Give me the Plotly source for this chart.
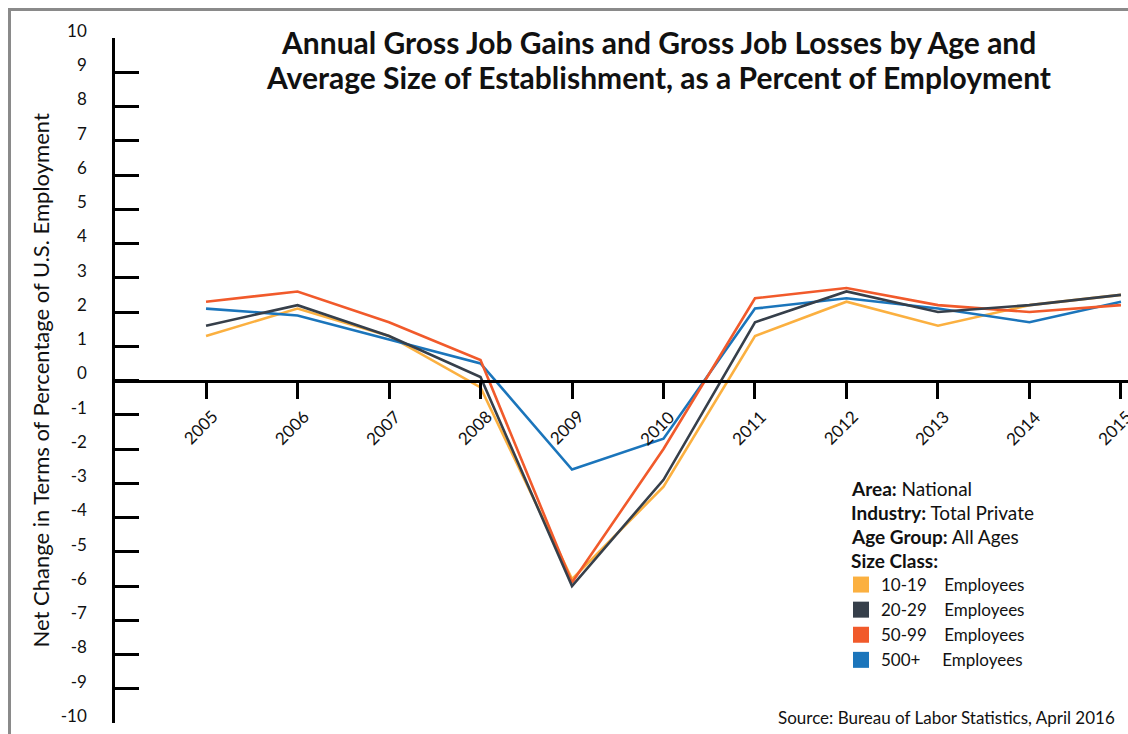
import plotly.graph_objects as go

years = [2005, 2006, 2007, 2008, 2009, 2010, 2011, 2012, 2013, 2014, 2015]
size_10_19 = [1.3, 2.1, 1.3, -0.2, -5.8, -3.1, 1.3, 2.3, 1.6, 2.2, 2.5]
size_20_29 = [1.6, 2.2, 1.3, 0.1, -6.0, -2.9, 1.7, 2.6, 2.0, 2.2, 2.5]
size_50_99 = [2.3, 2.6, 1.7, 0.6, -5.9, -2.0, 2.4, 2.7, 2.2, 2.0, 2.2]
size_500p = [2.1, 1.9, 1.2, 0.5, -2.6, -1.7, 2.1, 2.4, 2.1, 1.7, 2.3]

series_names = ["10-19", "20-29", "50-99", "500+"]
name_pad = [4, 4, 4, 5]
colors = ["#FBB040", "#363F4A", "#F15A2B", "#1B75BB"]
series_values = [size_10_19, size_20_29, size_50_99, size_500p]
draw_order = [0, 3, 2, 1]

info_labels = ["Area:", "Industry:", "Age Group:", "Size Class:"]
info_values = ["National", "Total Private", "All Ages", ""]

title_lines = ["Annual Gross Job Gains and Gross Job Losses by Age and",
               "Average Size of Establishment, as a Percent of Employment"]

y_ticks = list(range(-10, 11))

FONT = "Lato"
TXT = "#111111"

fig = go.Figure()

for i in draw_order:
    fig.add_trace(go.Scatter(
        x=years, y=series_values[i], mode="lines",
        line=dict(color=colors[i], width=2.6),
        name=series_names[i], showlegend=False,
    ))

for i in range(4):
    fig.add_trace(go.Scatter(
        x=[None], y=[None], mode="markers",
        marker=dict(symbol="square", size=17, color=colors[i]),
        name=series_names[i] + "\u00a0" * name_pad[i] + "Employees",
        showlegend=True, legendrank=i + 1,
    ))

annotations = []
for yr in years:
    annotations.append(dict(
        x=yr, y=0, xref="x", yref="y", text=str(yr), showarrow=False,
        textangle=-45, xshift=-6, yshift=-47,
        font=dict(family=FONT, size=17, color=TXT),
    ))

for k, line in enumerate(title_lines):
    ypix = 42 + 35 * k
    annotations.append(dict(
        x=0.537, y=(723 - ypix) / 685, xref="paper", yref="paper",
        xanchor="center", yanchor="middle",
        text="<b>" + line + "</b>", showarrow=False,
        font=dict(family=FONT, size=30, color=TXT),
    ))
annotations.append(dict(
    x=-0.074, y=0.5, xref="paper", yref="paper", xanchor="center", yanchor="middle",
    text="Net Change in Terms of Percentage of U.S. Employment",
    textangle=-90, showarrow=False,
    font=dict(family=FONT, size=22, color=TXT),
))
annotations.append(dict(
    x=0.989, y=0.0073, xref="paper", yref="paper", xanchor="right", yanchor="middle",
    text="Source: Bureau of Labor Statistics, April 2016",
    showarrow=False,
    font=dict(family=FONT, size=17, color=TXT),
))
for k, (lab, val) in enumerate(zip(info_labels, info_values)):
    ypix = 488 + 24.3 * k
    annotations.append(dict(
        x=(849 - 115) / 1013, y=(723 - ypix) / 685, xref="paper", yref="paper",
        xanchor="left", yanchor="middle", showarrow=False,
        text="<b>" + lab + "</b>" + (" " + val if val else ""),
        font=dict(family=FONT, size=19, color=TXT),
    ))

fig.update_layout(
    width=1128, height=734,
    margin=dict(l=115, r=0, t=38, b=11),
    paper_bgcolor="white", plot_bgcolor="white",
    font=dict(family=FONT, color=TXT),
    xaxis=dict(
        range=[2004.005, 2015.077], anchor="free", position=0.5,
        showline=True, linecolor="black", linewidth=2.5,
        ticks="outside", ticklen=17, tickwidth=2.5, tickcolor="black",
        tickvals=years, showticklabels=False, showgrid=False, zeroline=False,
    ),
    yaxis=dict(
        range=[-10, 10], tickvals=y_ticks, ticktext=[str(v) for v in y_ticks],
        showline=True, linecolor="black", linewidth=2.5,
        ticks="inside", ticklen=24, tickwidth=2.5, tickcolor="black",
        showgrid=False, zeroline=False,
        ticklabelstandoff=22, ticklabelshift=-7,
        tickfont=dict(family=FONT, size=17, color=TXT),
    ),
    legend=dict(
        x=(841 - 115) / 1013, y=(723 - 567) / 685, xanchor="left", yanchor="top",
        bgcolor="rgba(0,0,0,0)",
        font=dict(family=FONT, size=17, color=TXT),
        traceorder="normal", itemsizing="trace",
    ),
    annotations=annotations,
    shapes=[
        dict(type="line", xref="paper", yref="paper",
             x0=(9 - 115) / 1013, x1=(1128 - 115) / 1013,
             y0=(723 - 9.5) / 685, y1=(723 - 9.5) / 685,
             line=dict(color="#8a8a8a", width=3)),
        dict(type="line", xref="paper", yref="paper",
             x0=(9.5 - 115) / 1013, x1=(9.5 - 115) / 1013,
             y0=(723 - 8) / 685, y1=(723 - 734) / 685,
             line=dict(color="#8a8a8a", width=3)),
    ],
)

fig.write_html("out.html", config={"displayModeBar": False},
               post_script="document.body.style.margin='0';document.body.style.overflow='hidden';")
